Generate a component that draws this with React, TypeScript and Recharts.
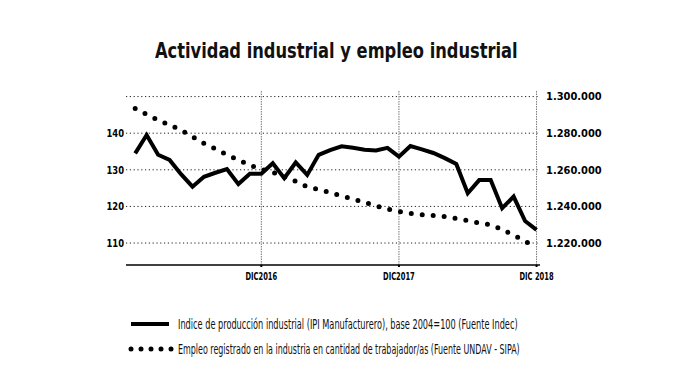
import { useLayoutEffect, useRef, useState } from 'react';
import { Line, LineChart, ReferenceLine, XAxis, YAxis } from 'recharts';

// Jan 2016 .. Dec 2018
const months = [
  'ene-16', 'feb-16', 'mar-16', 'abr-16', 'may-16', 'jun-16', 'jul-16', 'ago-16', 'sep-16', 'oct-16', 'nov-16', 'dic-16',
  'ene-17', 'feb-17', 'mar-17', 'abr-17', 'may-17', 'jun-17', 'jul-17', 'ago-17', 'sep-17', 'oct-17', 'nov-17', 'dic-17',
  'ene-18', 'feb-18', 'mar-18', 'abr-18', 'may-18', 'jun-18', 'jul-18', 'ago-18', 'sep-18', 'oct-18', 'nov-18', 'dic-18',
];

// IPI Manufacturero, base 2004=100 (left axis)
const ipi = [
  134.5, 139.5, 134.1, 132.7, 128.8, 125.4, 128.1, 129.2, 130.2, 126.1, 128.9, 128.9,
  131.8, 127.7, 132.0, 128.6, 134.1, 135.4, 136.4, 136.0, 135.5, 135.3, 136.0, 133.6,
  136.5, 135.6, 134.6, 133.2, 131.6, 123.6, 127.2, 127.2, 119.5, 122.7, 116.0, 113.6,
];

// empleo registrado en la industria (right axis)
const empleo = [
  1293500, 1290300, 1287200, 1284500, 1281700, 1278100, 1274400, 1271400, 1268200, 1265400, 1262500, 1260200,
  1258700, 1256200, 1253700, 1250800, 1249300, 1247600, 1245600, 1244100, 1242200, 1240300, 1238600, 1237300,
  1236200, 1235500, 1235000, 1234400, 1233400, 1232200, 1231000, 1229900, 1227400, 1224300, 1221000, 1217400,
];

const xTicks = [11, 23, 35];
const xTickLabels = ['DIC2016', 'DIC2017', 'DIC 2018'];
const leftTicks = [110, 120, 130, 140, 150];
const rightTicks = [1220000, 1240000, 1260000, 1280000, 1300000];

const title = 'Actividad industrial y empleo industrial';
const legendIpi = 'Indice de producción industrial (IPI Manufacturero), base 2004=100 (Fuente Indec)';
const legendEmpleo = 'Empleo registrado en la industria en cantidad de trabajador/as (Fuente UNDAV - SIPA)';

const FONT = "'Liberation Sans Narrow', 'DejaVu Sans Condensed', Roboto, sans-serif";

const data = months.map((m, i) => ({ i, mes: m, ipi: ipi[i], empleo: empleo[i] }));

const fmtMiles = (v: number) => String(v).replace(/\B(?=(\d{3})+(?!\d))/g, '.');

// squeezes a text horizontally so it fills `width` px (condensed look)
const FitText = ({ x, y, width, fontSize, fontWeight = 400, text }: {
  x: number; y: number; width: number; fontSize: number; fontWeight?: number; text: string;
}) => {
  const ref = useRef<SVGTextElement>(null);
  const [sx, setSx] = useState(1);
  useLayoutEffect(() => {
    const w = ref.current ? ref.current.getComputedTextLength() : 0;
    if (w > 0) setSx(width / w);
  }, [width, text]);
  return (
    <text
      ref={ref}
      transform={`translate(${x},${y}) scale(${sx},1)`}
      fontFamily={FONT}
      fontSize={fontSize}
      fontWeight={fontWeight}
      fill='#111'
    >
      {text}
    </text>
  );
};

// condensed tick text
const tickText = (label: string, x: number, y: number, anchor: string, dy: string, sx: number) => (
  <text
    transform={`translate(${x},${y}) scale(${sx},1)`}
    textAnchor={anchor}
    dy={dy}
    fontFamily={FONT}
    fontSize={11}
    fontWeight={700}
    fill='#000'
  >
    {label}
  </text>
);

const XTick = ({ x, y, payload }: any) =>
  tickText(xTickLabels[xTicks.indexOf(payload.value)] ?? '', x, y, 'middle', '0.71em', 0.68);

const LeftTick = ({ x, y, payload }: any) =>
  tickText(payload.value === 150 ? '' : String(payload.value), x, y, 'end', '0.355em', 0.85);

const RightTick = ({ x, y, payload }: any) =>
  tickText(fmtMiles(payload.value), x, y, 'start', '0.355em', 1);

const App = () => {
  return (
    <div style={{ position: 'absolute', left: 0, top: 0, width: 696, height: 392, background: '#fff' }}>
      <LineChart width={696} height={392} data={data} margin={{ top: 90, right: 0, bottom: 97, left: 0 }}>
        {leftTicks.map((t) => (
          <ReferenceLine key={'h' + t} y={t} yAxisId='left' stroke='#222' strokeDasharray='1.2 2.6' />
        ))}
        {xTicks.map((t) => (
          <ReferenceLine key={'v' + t} x={t} yAxisId='left' stroke='#777' strokeDasharray='1.5 1' />
        ))}
        <XAxis
          dataKey='i'
          type='number'
          domain={[-0.8, 35.3]}
          ticks={xTicks}
          height={30}
          axisLine={{ stroke: '#000', strokeWidth: 1.5 }}
          tickLine={{ stroke: '#000', strokeWidth: 2 }}
          tickSize={2}
          tickMargin={5}
          tick={XTick}
        />
        <YAxis
          yAxisId='left'
          orientation='left'
          width={126}
          domain={[104, 151.8]}
          ticks={leftTicks}
          axisLine={false}
          tickLine={false}
          tickSize={0}
          tickMargin={2}
          tick={LeftTick}
        />
        <YAxis
          yAxisId='right'
          orientation='right'
          width={156}
          domain={[1208000, 1303600]}
          ticks={rightTicks}
          axisLine={false}
          tickLine={false}
          tickSize={0}
          tickMargin={6}
          tick={RightTick}
        />
        <Line
          yAxisId='right'
          type='linear'
          dataKey='empleo'
          stroke='#000'
          strokeWidth={5}
          strokeDasharray='0 11'
          strokeLinecap='round'
          dot={false}
          isAnimationActive={false}
        />
        <Line
          yAxisId='left'
          type='linear'
          dataKey='ipi'
          stroke='#000'
          strokeWidth={4}
          dot={false}
          isAnimationActive={false}
        />
      </LineChart>
      <svg
        width={696}
        height={392}
        style={{ position: 'absolute', left: 0, top: 0, pointerEvents: 'none' }}
      >
        <FitText x={155} y={57.5} width={363} fontSize={22} fontWeight={700} text={title} />
        <line x1={131} x2={169} y1={324} y2={324} stroke='#000' strokeWidth={4} />
        <FitText x={178} y={329} width={340} fontSize={14} text={legendIpi} />
        {[0, 1, 2, 3, 4].map((k) => (
          <circle key={k} cx={131 + k * 10} cy={349} r={2.5} fill='#000' />
        ))}
        <FitText x={178} y={354} width={342} fontSize={14} text={legendEmpleo} />
      </svg>
    </div>
  );
};

export default App;
